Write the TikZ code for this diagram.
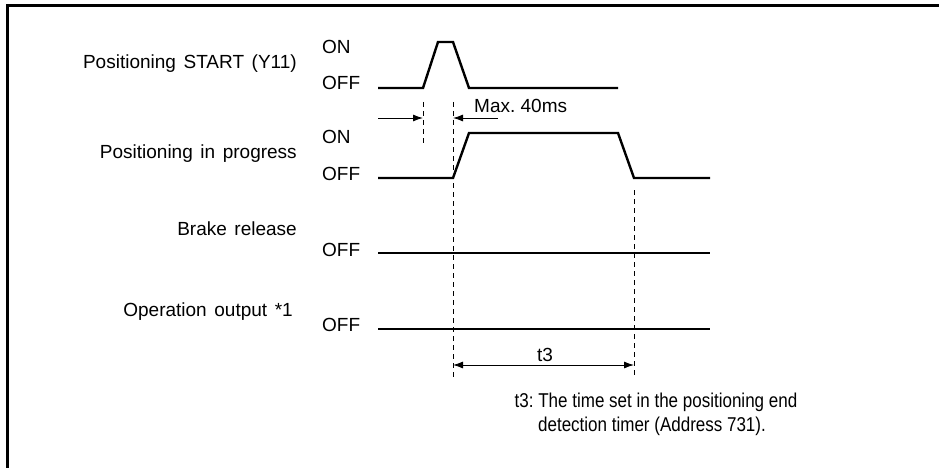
\documentclass[tikz,border=0pt]{standalone}
\usepackage{fontspec}
\setmainfont{Liberation Sans}
\newfontfamily\narrowfont{Liberation Sans}[FakeStretch=0.85]
\newcommand\widewords{\spaceskip=0.4em\relax}
\frenchspacing
\usetikzlibrary{positioning, arrows.meta}

\begin{document}
\begin{tikzpicture}[x=1pt, y=-1pt,
    every node/.style={font=\fontsize{19}{22}\selectfont, inner sep=0pt},
    siglabel/.style={anchor=base east, execute at begin node=\widewords},
    level/.style={anchor=base west},
    note/.style={anchor=base, font=\narrowfont\fontsize{20}{24}\selectfont},
    wave/.style={line width=2.4pt, line join=miter},
    guide/.style={line width=0.9pt, dash pattern=on 5pt off 4pt},
    dim/.style={line width=0.9pt, -{Latex[length=10pt, width=7pt]}},
    frame/.style={line width=3pt}]

  \useasboundingbox (0,0) rectangle (939,468);
  \draw[frame] (7.5,468) -- (7.5,5.5) -- (939,5.5);

  % signal names
  \node[siglabel] (lStart) at (297, 68.5) {Positioning START (Y11)};
  \node[siglabel] (lBusy)  at (297,158)   {Positioning in progress};
  \node[siglabel] (lBrake) at (297,235)   {Brake release};
  \node[siglabel] (lOut)   at (293,316.5) {Operation output *1};

  % levels
  \node[level] (onStart)  at (322, 54)  {ON};
  \node[level] (offStart) at (322, 90)  {OFF};
  \node[level] (onBusy)   at (322,143.5){ON};
  \node[level] (offBusy)  at (322,180)  {OFF};
  \node[level] (offBrake) at (322,256)  {OFF};
  \node[level] (offOut)   at (322,331.5){OFF};

  % waveforms
  \draw[wave] (378,88) -- (423,88) -- (438,42) -- (453,42) -- (469,88) -- (618,88);
  \draw[wave] (378,178) -- (453,178) -- (469,133) -- (618,133) -- (634,178) -- (710,178);
  \draw[wave] (378,253) -- (710,253);
  \draw[wave] (378,329) -- (710,329);

  % timing marks
  \coordinate (gA1) at (423,102);
  \coordinate (gA2) at (423,146);
  \coordinate (gB1) at (453,102);
  \coordinate (gB2) at (453,378);
  \coordinate (gC1) at (634,190);
  \coordinate (gC2) at (634,378);
  \draw[guide] (gA1) -- (gA2);
  \draw[guide] (gB1) -- (gB2);
  \draw[guide] (gC1) -- (gC2);

  \coordinate (mL)  at (378,118);
  \coordinate (mA)  at (423,118);
  \coordinate (mB)  at (453,118);
  \coordinate (mR)  at (498,118);
  \draw[dim] (mL) -- (mA);
  \draw[dim] (mR) -- (mB);
  \node[anchor=base west] (maxT) at (474,113) {Max. 40ms};

  \coordinate (tL) at (453,365);
  \coordinate (tR) at (634,365);
  \draw[dim, {Latex[length=10pt, width=7pt]}-{Latex[length=10pt, width=7pt]}] (tL) -- (tR);
  \node[anchor=base] (tLab) at (545,361.5) {t3};

  % note
  \node[note] (note1) at (656,407) {t3: The time set in the positioning end};
  \node[note] (note2) at (652,431) {detection timer (Address 731).};
\end{tikzpicture}
\end{document}
